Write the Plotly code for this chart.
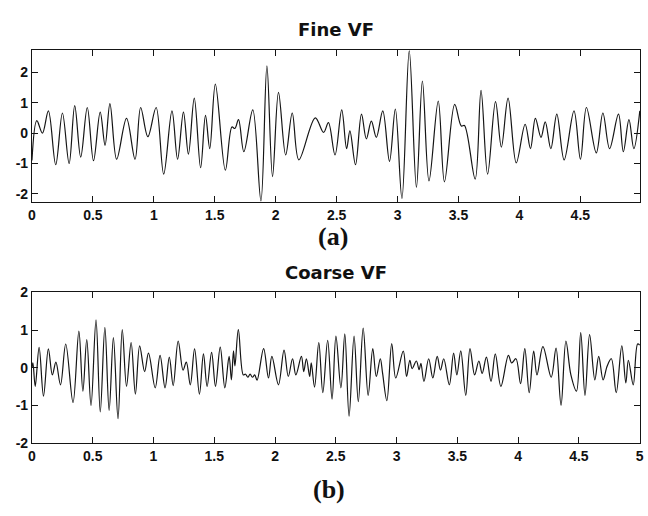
import plotly.graph_objects as go

# ---- data ----
fine_t = [0.0, 0.04, 0.086, 0.135, 0.195, 0.25, 0.305, 0.351, 0.4, 0.454, 0.505, 0.56, 0.6, 0.64,
          0.695, 0.776, 0.846, 0.892, 0.951, 1.019, 1.081, 1.149, 1.195, 1.243, 1.284, 1.332, 1.384,
          1.424, 1.459, 1.505, 1.587, 1.641, 1.665, 1.695, 1.739, 1.812, 1.879, 1.928, 1.974, 2.023,
          2.082, 2.136, 2.19, 2.325, 2.393, 2.433, 2.487, 2.542, 2.582, 2.609, 2.655, 2.704, 2.744,
          2.785, 2.826, 2.879, 2.934, 2.982, 3.036, 3.096, 3.155, 3.204, 3.258, 3.334, 3.385, 3.469,
          3.523, 3.549, 3.637, 3.685, 3.739, 3.804, 3.852, 3.907, 3.974, 4.047, 4.091, 4.131, 4.177,
          4.212, 4.258, 4.307, 4.367, 4.448, 4.501, 4.55, 4.631, 4.685, 4.74, 4.813, 4.853, 4.899,
          4.939, 4.988]
fine_v = [-0.9, 0.41, 0.0, 0.73, -1.04, 0.66, -1.0, 0.9, -0.79, 0.84, -0.91, 0.69, -0.4, 0.97,
          -0.86, 0.48, -0.86, 0.84, -0.12, 0.84, -1.35, 0.73, -0.86, 0.69, -0.69, 1.15, -1.14,
          0.58, -0.51, 1.61, -1.22, 0.2, 0.15, 0.44, -0.61, 0.76, -2.23, 2.21, -1.43, 1.34,
          -0.72, 0.66, -0.88, 0.5, 0.02, 0.34, -0.72, 0.76, -0.51, 0.07, -1.04, 0.62, -0.19,
          0.39, -0.14, 0.73, -0.93, 0.79, -2.15, 2.7, -1.78, 1.71, -1.57, 1.05, -1.6, 0.94,
          0.23, 0.25, -1.51, 1.4, -1.35, 1.03, -0.46, 1.15, -0.98, 0.29, -0.51, 0.48, -0.14,
          0.37, -0.51, 0.62, -0.88, 0.73, -0.86, 0.84, -0.65, 0.66, -0.51, 0.62, -0.61, 0.44,
          -0.51, 0.73]

coarse_t = [0.0, 0.008, 0.027, 0.059, 0.095, 0.135, 0.168, 0.197, 0.235, 0.278, 0.338, 0.386, 0.419,
            0.451, 0.486, 0.527, 0.562, 0.6, 0.635, 0.67, 0.708, 0.743, 0.778, 0.816, 0.851, 0.886,
            0.927, 0.959, 1.014, 1.054, 1.095, 1.13, 1.162, 1.203, 1.243, 1.27, 1.303, 1.338, 1.378,
            1.411, 1.441, 1.478, 1.51, 1.549, 1.587, 1.622, 1.641, 1.658, 1.67, 1.698, 1.739, 1.757,
            1.776, 1.795, 1.814, 1.833, 1.852, 1.906, 1.946, 1.974, 2.028, 2.074, 2.109, 2.144,
            2.171, 2.217, 2.236, 2.258, 2.285, 2.298, 2.325, 2.36, 2.393, 2.433, 2.469, 2.501,
            2.542, 2.574, 2.609, 2.65, 2.685, 2.725, 2.766, 2.804, 2.833, 2.866, 2.885, 2.92, 2.96,
            2.993, 3.055, 3.082, 3.109, 3.128, 3.163, 3.185, 3.2, 3.225, 3.264, 3.298, 3.334, 3.361,
            3.388, 3.434, 3.469, 3.496, 3.528, 3.569, 3.604, 3.642, 3.677, 3.704, 3.739, 3.777,
            3.812, 3.858, 3.92, 3.947, 3.982, 4.02, 4.055, 4.091, 4.128, 4.155, 4.204, 4.272, 4.312,
            4.353, 4.393, 4.434, 4.48, 4.515, 4.55, 4.588, 4.631, 4.663, 4.699, 4.732, 4.767, 4.807,
            4.853, 4.886, 4.907, 4.947, 4.983, 5.0]
coarse_v = [0.0, 0.13, -0.49, 0.54, -0.75, 0.5, -0.19, 0.15, -0.45, 0.63, -0.92, 0.97, -0.62,
            0.75, -1.0, 1.27, -1.17, 1.07, -1.13, 0.8, -1.35, 1.01, -0.49, 0.67, -0.7, 0.58,
            -0.1, 0.39, -0.53, 0.33, -0.53, 0.28, -0.47, 0.71, -0.06, 0.15, -0.45, 0.5, -0.7,
            0.37, -0.49, 0.41, -0.49, 0.55, -0.53, 0.3, -0.32, 0.45, 0.05, 1.01, -0.19, -0.17,
            -0.25, -0.17, -0.25, -0.19, -0.33, 0.51, -0.27, 0.3, -0.45, 0.47, -0.23, 0.24,
            -0.19, 0.3, -0.1, 0.24, -0.23, 0.13, -0.51, 0.67, -0.66, 0.73, -0.83, 0.84,
            -0.53, 0.9, -1.28, 0.84, -0.9, 1.05, -0.73, 0.51, -0.23, 0.24, -0.15, -0.87, 0.64,
            -0.27, 0.44, -0.23, 0.2, -0.02, 0.18, -0.05, 0.12, -0.36, 0.24, -0.27, 0.3, -0.06,
            0.24, -0.45, 0.39, -0.19, 0.45, -0.73, 0.51, -0.19, 0.18, -0.15, 0.28, -0.36,
            0.37, -0.49, 0.33, 0.13, 0.24, -0.42, 0.51, -0.66, 0.44, -0.19, 0.56, -0.25, 0.52,
            -0.99, 0.71, -0.19, -0.62, 0.93, -0.73, 0.88, -0.32, 0.3, -0.32, 0.04, 0.24, -0.66,
            0.58, -0.4, 0.2, -0.45, 0.63, 0.6]

fine_xticks = [0, 0.5, 1, 1.5, 2, 2.5, 3, 3.5, 4, 4.5]
fine_xlabels = ["0", "0.5", "1", "1.5", "2", "2.5", "3", "3.5", "4", "4.5"]
coarse_xticks = [0, 0.5, 1, 1.5, 2, 2.5, 3, 3.5, 4, 4.5, 5]
coarse_xlabels = ["0", "0.5", "1", "1.5", "2", "2.5", "3", "3.5", "4", "4.5", "5"]
yticks = [-2, -1, 0, 1, 2]
ylabels = ["-2", "-1", "0", "1", "2"]

titles = ["Fine VF", "Coarse VF"]
panel_labels = ["(a)", "(b)"]

W, H = 648, 516
LINE = "#151515"
tickfont = dict(family="Liberation Sans, Arial, sans-serif", size=14, color="#111", weight="bold")

fig = go.Figure()
fig.add_trace(go.Scatter(x=fine_t, y=fine_v, mode="lines", xaxis="x", yaxis="y",
                         line=dict(color=LINE, width=1.2, shape="spline", smoothing=1.0),
                         showlegend=False, hoverinfo="skip"))
fig.add_trace(go.Scatter(x=coarse_t, y=coarse_v, mode="lines", xaxis="x2", yaxis="y2",
                         line=dict(color=LINE, width=1.2, shape="spline", smoothing=1.0),
                         showlegend=False, hoverinfo="skip"))

xdom = [28.3 / W, 644 / W]
def ydom(top, bottom):
    return [1 - bottom / H, 1 - top / H]

common = dict(showline=True, linecolor=LINE, linewidth=1, mirror="ticks", ticks="inside",
              ticklen=6, tickcolor=LINE, tickwidth=1, showgrid=False, zeroline=False,
              tickfont=tickfont, fixedrange=True)

fig.update_layout(
    width=W, height=H,
    margin=dict(l=0, r=0, t=0, b=0),
    paper_bgcolor="white", plot_bgcolor="white",
    xaxis=dict(domain=xdom, anchor="y", range=[0, 4.99], tickvals=fine_xticks,
               ticktext=fine_xlabels, **common),
    yaxis=dict(domain=ydom(43.3, 200.7), anchor="x", range=[-2.28, 2.73], tickvals=yticks,
               ticktext=ylabels, **common),
    xaxis2=dict(domain=xdom, anchor="y2", range=[0, 5.003], tickvals=coarse_xticks,
                ticktext=coarse_xlabels, **common),
    yaxis2=dict(domain=ydom(293.3, 449.3), anchor="x2", range=[-2.002, 2.002], tickvals=yticks,
                ticktext=ylabels, **common),
)

title_font = dict(family="DejaVu Sans, sans-serif", size=18, color="#111", weight="bold")
label_font = dict(family="Liberation Serif, Times New Roman, serif", size=26, color="#111", weight="bold")
fig.add_annotation(text=titles[0], x=336 / W, y=1 - 22.5 / H, xref="paper", yref="paper",
                   showarrow=False, font=title_font, xanchor="center", yanchor="middle")
fig.add_annotation(text=titles[1], x=336 / W, y=1 - 273 / H, xref="paper", yref="paper",
                   showarrow=False, font=title_font, xanchor="center", yanchor="middle")
fig.add_annotation(text=panel_labels[0], x=333 / W, y=1 - 236 / H, xref="paper", yref="paper",
                   showarrow=False, font=label_font, xanchor="center", yanchor="middle")
fig.add_annotation(text=panel_labels[1], x=329 / W, y=1 - 497 / H, xref="paper", yref="paper",
                   showarrow=False, font=label_font, xanchor="center", yanchor="middle")

fig.write_html("out.html")
